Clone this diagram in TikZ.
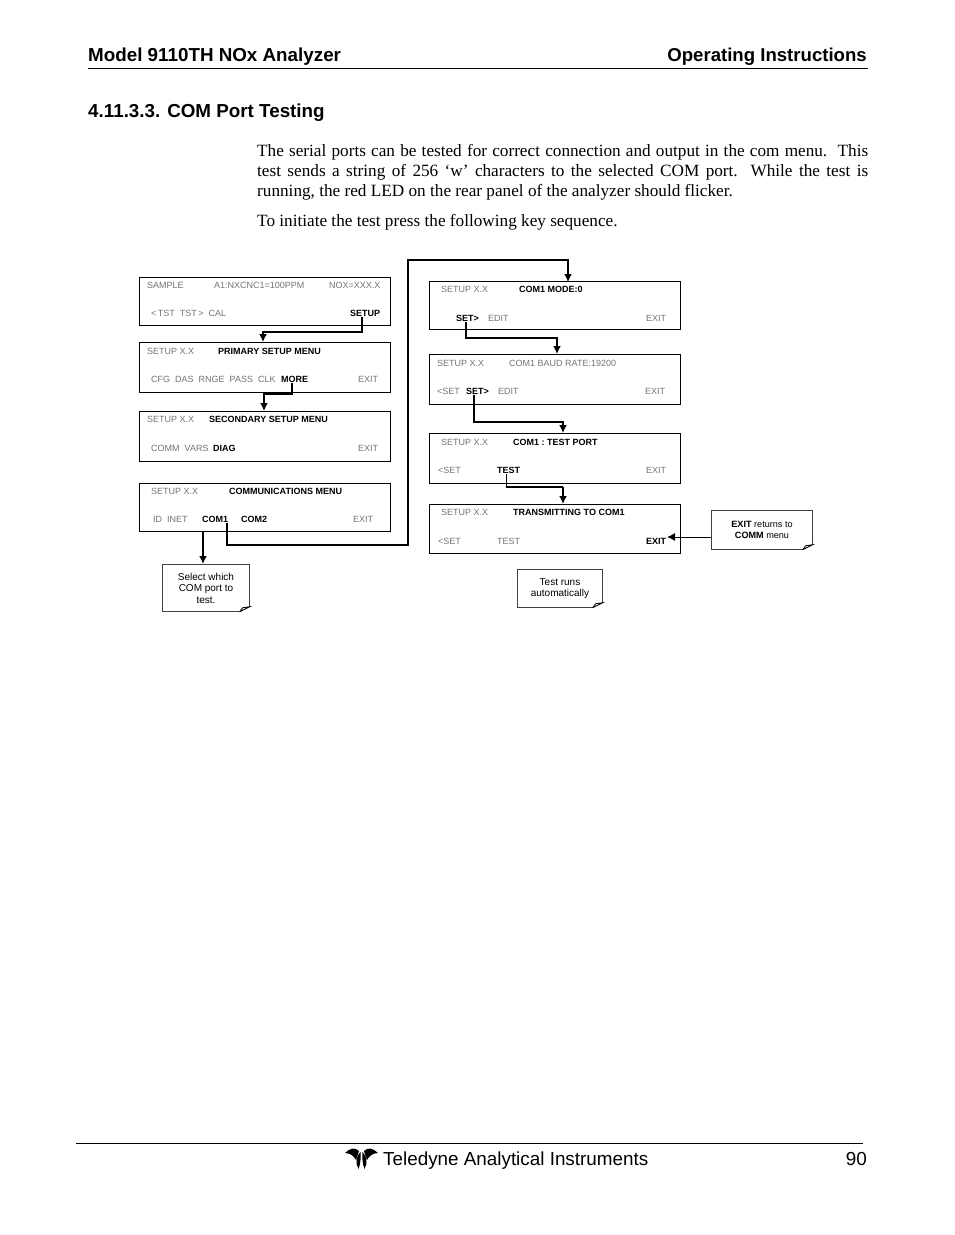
\documentclass[tikz,border=0pt]{standalone}
\usepackage{fontspec}
\setmainfont{Liberation Serif}
\newfontfamily\arialfont{Liberation Sans}
\usepackage{tikz}
\usetikzlibrary{arrows.meta}

\tikzset{
  menubox/.style={draw, line width=0.9pt, minimum width=251pt, minimum height=48pt, inner sep=0pt},
  greytext/.style={anchor=base west, inner sep=0pt, yshift=0.7pt, text=black!55, font=\arialfont\fontsize{9}{10}\selectfont},
  boldtext/.style={anchor=base west, inner sep=0pt, yshift=0.7pt, font=\arialfont\bfseries\fontsize{9}{10}\selectfont},
  notebox/.style={inner sep=0pt, align=center, font=\arialfont\fontsize{10}{11.5}\selectfont},
  headtext/.style={anchor=base west, inner sep=0pt, font=\arialfont\bfseries\fontsize{18.8}{20}\selectfont},
  flow/.style={line width=1.7pt, -{Latex[length=8pt,width=8pt]}},
}

\begin{document}
\begin{tikzpicture}[x=1pt,y=-1pt]
\useasboundingbox (0,0) rectangle (954,1235);

% page head
\node[headtext] (model) at (88,61) {Model 9110TH NOx Analyzer};
\node[headtext,anchor=base east,font=\arialfont\bfseries\fontsize{18.6}{20}\selectfont] (operating) at (867,61) {Operating Instructions};
\draw[line width=0.9pt] (88,68.5)--(868,68.5);
\node[headtext] (section) at (88,117) {4.11.3.3. COM Port Testing};

\node[anchor=north west, inner sep=0pt, text width=611pt, align=justify,
      font=\fontsize{17.2}{20}\selectfont] (para) at (257,144)
  {The serial ports can be tested for correct connection and output in the com menu.\ \ This\linebreak
   test sends a string of 256 `w' characters to the selected COM port.\ \ While the test is\linebreak
   running, the red LED on the rear panel of the analyzer should flicker.};
\node[anchor=base west, inner sep=0pt, font=\fontsize{17.2}{20}\selectfont] (initiate) at (257,226)
  {To initiate the test press the following key sequence.};

% left column
\node[menubox] (samplebox) at (265,301.5) {};
\node[greytext] (t1) at (147,289) {SAMPLE};
\node[greytext] (t2) at (214,289) {A1:NXCNC1=100PPM};
\node[greytext] (t3) at (329,289) {NOX=XXX.X};
\node[greytext] (t4) at (151,317) {<\,TST\ \ TST\,>\ \ CAL};
\node[boldtext] (setupkey) at (350,317) {SETUP};

\node[menubox,minimum height=50pt] (primarybox) at (265,367) {};
\node[greytext] (t5) at (147,355) {SETUP X.X};
\node[boldtext] (t6) at (218,355) {PRIMARY SETUP MENU};
\node[greytext] (t7) at (151,383) {CFG\ \ DAS\ \ RNGE\ \ PASS\ \ CLK};
\node[boldtext] (morekey) at (281,383) {MORE};
\node[greytext] (t8) at (358,383) {EXIT};

\node[menubox,minimum height=50pt] (secondbox) at (265,436) {};
\node[greytext] (t9) at (147,423) {SETUP X.X};
\node[boldtext] (t10) at (209,423) {SECONDARY SETUP MENU};
\node[greytext] (t11) at (151,452) {COMM\ \ VARS};
\node[boldtext] (t12) at (213,452) {DIAG};
\node[greytext] (t13) at (358,452) {EXIT};

\node[menubox] (commbox) at (265,507) {};
\node[greytext] (t14) at (151,495) {SETUP X.X};
\node[boldtext] (t15) at (229,495) {COMMUNICATIONS MENU};
\node[greytext] (t16) at (153,523) {ID\ \ INET};
\node[boldtext] (comonekey) at (202,523) {COM1};
\node[boldtext] (t17) at (241,523) {COM2};
\node[greytext] (t18) at (353,523) {EXIT};

% right column
\node[menubox] (modebox) at (555,305.5) {};
\node[greytext] (t19) at (441,293) {SETUP X.X};
\node[boldtext] (t20) at (519,293) {COM1 MODE:0};
\node[boldtext] (setkey) at (456,322) {SET>};
\node[greytext] (t21) at (488,322) {EDIT};
\node[greytext] (t22) at (646,322) {EXIT};

\node[menubox,minimum height=50pt] (baudbox) at (554.5,379) {};
\node[greytext] (t23) at (437,367) {SETUP X.X};
\node[greytext] (t24) at (509,367) {COM1 BAUD RATE:19200};
\node[greytext] (t25) at (437,395) {<SET};
\node[boldtext] (setbaudkey) at (466,395) {SET>};
\node[greytext] (t26) at (498,395) {EDIT};
\node[greytext] (t27) at (645,395) {EXIT};

\node[menubox,minimum height=50pt] (testbox) at (554.5,458) {};
\node[greytext] (t28) at (441,446) {SETUP X.X};
\node[boldtext] (t29) at (513,446) {COM1 :\ TEST PORT};
\node[greytext] (t30) at (438,474) {<SET};
\node[boldtext] (testkey) at (497,474) {TEST};
\node[greytext] (t31) at (646,474) {EXIT};

\node[menubox,minimum height=49pt] (sendbox) at (555,528.5) {};
\node[greytext] (t32) at (441,516) {SETUP X.X};
\node[boldtext] (t33) at (513,516) {TRANSMITTING TO COM1};
\node[greytext] (t34) at (438,545) {<SET};
\node[greytext] (t35) at (497,545) {TEST};
\node[boldtext] (exitkey) at (646,545) {EXIT};

% notes
\node[notebox,minimum width=87pt,minimum height=47pt] (selectnote) at (206,588) {Select which\\COM port to\\test.};
\node[notebox,minimum width=85pt,minimum height=38pt] (runnote) at (560,588.5) {Test runs\\automatically};
\node[notebox,minimum width=101pt,minimum height=39pt,font=\arialfont\fontsize{9.1}{10.5}\selectfont] (exitnote) at (762,530)
  {\textbf{EXIT} returns to\\\textbf{COMM} menu};

\foreach \n in {selectnote,runnote,exitnote}{
\draw[line width=0.7pt,black!75] ([xshift=-10pt]\n.south east) -- (\n.south west) -- (\n.north west) -- (\n.north east) -- ([yshift=5pt]\n.south east);
\draw[line width=0.8pt] ([xshift=-10pt]\n.south east) -- ++(3,-4) -- ++(7,-1) -- ++(-4,2) -- ++(-6,3);
}

% connectors
\coordinate (primaryin) at (263,342);
\coordinate (secondin) at (264,411);
\coordinate (modein) at (568,282);
\coordinate (baudin) at (557,354);
\coordinate (testin) at (563,433);
\coordinate (sendturn) at (563,487);
\coordinate (sendin) at (563,504);
\coordinate (selectin) at (203,564);
\coordinate (exitout) at (711,537);
\coordinate (exitin) at (667,537);

\draw[flow] ([xshift=-3pt]setupkey.south) |- (263,332) -- (primaryin);
\draw[flow] ([xshift=-3pt]morekey.south) |- (264,394) -- (secondin);
\draw[flow] (commbox.south -| selectin) -- (selectin);
\draw[flow] ([xshift=12pt]comonekey.south) |- (408,545) |- (568,260) -- (modein);
\draw[flow] ([xshift=-1.5pt]setkey.south) |- (557,338) -- (baudin);
\draw[flow] ([xshift=-3.5pt]setbaudkey.south) |- (563,422) -- (testin);
\draw[line width=1.1pt] ([xshift=-2.5pt]testkey.south) |- (sendturn);
\draw[flow] (sendturn) -- (sendin);
\draw[line width=1pt, -{Latex[length=8pt,width=8pt]}] (exitout) -- (exitin);

% page foot
\draw[line width=0.9pt] (76,1143)--(863,1143);
\fill (359,1151) .. controls (355,1147) and (350,1148) .. (345,1153)
  .. controls (350,1153) and (354,1156) .. (356,1160) -- cycle;
\fill (364,1151) .. controls (368,1147) and (373,1148) .. (378,1153)
  .. controls (373,1153) and (369,1156) .. (367,1160) -- cycle;
\fill (360.5,1152) .. controls (356,1156) and (355,1163) .. (358.5,1169)
  .. controls (360.5,1164) and (361,1158) .. (360.5,1152) -- cycle;
\fill (362.5,1152) .. controls (367,1156) and (368,1163) .. (364.5,1169)
  .. controls (362.5,1164) and (362,1158) .. (362.5,1152) -- cycle;
\node[anchor=base west, inner sep=0pt, font=\arialfont\fontsize{18.85}{22}\selectfont] (teledyne) at (383,1165) {Teledyne Analytical Instruments};
\node[anchor=base east, inner sep=0pt, font=\arialfont\fontsize{18.85}{22}\selectfont] (pagenum) at (867,1165) {90};
\end{tikzpicture}
\end{document}
